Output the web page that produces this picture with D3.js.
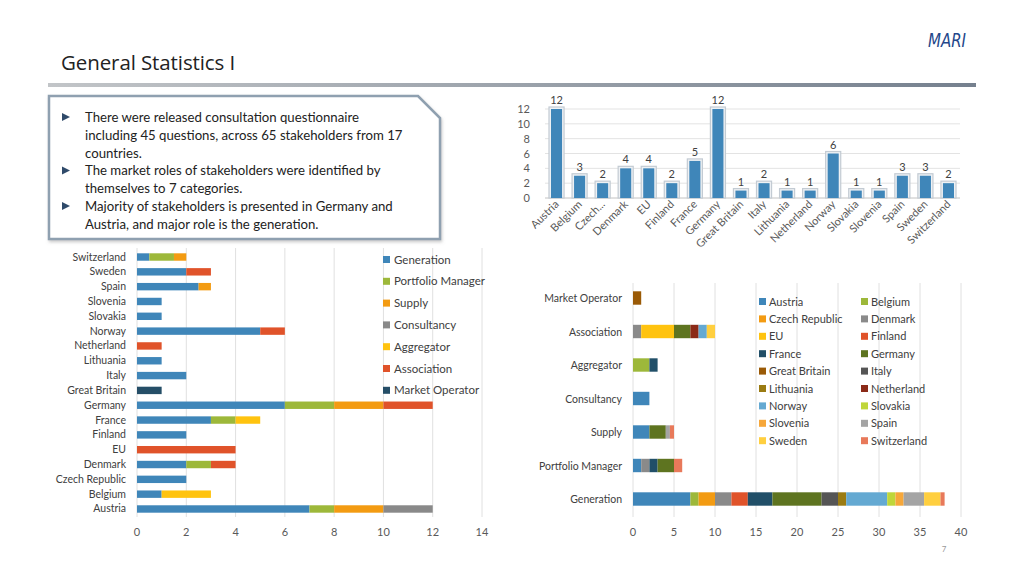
<!DOCTYPE html>
<html><head><meta charset="utf-8">
<script src="https://cdn.jsdelivr.net/npm/d3@7/dist/d3.min.js"></script>
<style>
body{margin:0;background:#fff;}
svg{display:block;font-family:Lato,"Open Sans",sans-serif;}
</style></head>
<body><svg id="c" width="1024" height="576"></svg>
<script>
const countries = ["Austria","Belgium","Czech Republic","Denmark","EU","Finland","France","Germany","Great Britain","Italy","Lithuania","Netherland","Norway","Slovakia","Slovenia","Spain","Sweden","Switzerland"];
const countryTickLabels = ["Austria","Belgium","Czech...","Denmark","EU","Finland","France","Germany","Great Britain","Italy","Lithuania","Netherland","Norway","Slovakia","Slovenia","Spain","Sweden","Switzerland"];
const stakeholders = [12,3,2,4,4,2,5,12,1,2,1,1,6,1,1,3,3,2];
const roles = ["Generation","Portfolio Manager","Supply","Consultancy","Aggregator","Association","Market Operator"];
const generation     = [7,1,2,2,0,2,3,6,0,2,1,0,5,1,1,2.5,2,0.5];
const portfolio      = [1,0,0,1,0,0,1,2,0,0,0,0,0,0,0,0,0,1];
const supply         = [2,0,0,0,0,0,0,2,0,0,0,0,0,0,0,0.5,0,0.5];
const consultancy    = [2,0,0,0,0,0,0,0,0,0,0,0,0,0,0,0,0,0];
const aggregator     = [0,2,0,0,0,0,1,0,0,0,0,0,0,0,0,0,0,0];
const association    = [0,0,0,1,4,0,0,2,0,0,0,1,1,0,0,0,1,0];
const marketOperator = [0,0,0,0,0,0,0,0,1,0,0,0,0,0,0,0,0,0];
const topTicks = [0,2,4,6,8,10,12];
const leftTicks = [0,2,4,6,8,10,12,14];
const rightTicks = [0,5,10,15,20,25,30,35,40];
const bullets = [
  ["There were released consultation questionnaire","including 45 questions, across 65 stakeholders from 17","countries."],
  ["The market roles of stakeholders were identified by","themselves to 7 categories."],
  ["Majority of stakeholders is presented in Germany and","Austria, and major role is the generation."]
];

const roleColors = ["#3F86B9","#9DB83A","#F39B12","#898989","#FFC30F","#E0532A","#254E67"];
const countryColors = ["#3F86B9","#9DB83A","#F39B12","#8A8A8A","#FFC30F","#E0532A","#214F68","#5E7420","#9A5A06","#555555","#9A7B12","#8B2A18","#64A9D2","#BFD63A","#F6A73A","#A4A4A4","#FFCF3F","#E8795A"];

const roleData = [generation,portfolio,supply,consultancy,aggregator,association,marketOperator];
const svg = d3.select("#c");
const txt = "#595959";

// header
svg.append("text").attr("x",61).attr("y",70).attr("font-size",20.5).attr("fill","#222")
  .attr("font-family","'Open Sans',Lato,sans-serif").attr("letter-spacing",-0.1).text("General Statistics I");
svg.append("text").attr("x",928).attr("y",47).attr("font-size",20).attr("textLength",38).attr("lengthAdjust","spacingAndGlyphs")
  .attr("font-style","italic").attr("fill","#24478a").attr("font-family","'Liberation Sans Narrow','DejaVu Sans Condensed',sans-serif")
  .text("MARI");
const defs = svg.append("defs");
const g1 = defs.append("linearGradient").attr("id","hl");
g1.append("stop").attr("offset","0").attr("stop-color","#c2c5c8");
g1.append("stop").attr("offset","1").attr("stop-color","#75808e");
svg.append("rect").attr("x",48).attr("y",83).attr("width",928).attr("height",4).attr("fill","url(#hl)");

// text box
const f = defs.append("filter").attr("id","sh").attr("x","-5%").attr("y","-5%").attr("width","110%").attr("height","115%");
f.append("feDropShadow").attr("dx",1).attr("dy",2).attr("stdDeviation",1.5).attr("flood-color","#999").attr("flood-opacity",0.5);
svg.append("path").attr("d","M49,96 L418,96 L440,118 L440,239 L49,239 Z").attr("fill","#fff")
  .attr("stroke","#8fa0b0").attr("stroke-width",2.5).attr("filter","url(#sh)");
let ly = 122;
bullets.forEach(b=>{
  svg.append("path").attr("d",`M62,${ly-9} L70,${ly-5} L62,${ly-1} Z`).attr("fill","#2f4a6a");
  b.forEach(line=>{
    svg.append("text").attr("x",85).attr("y",ly).attr("font-size",13.2).attr("fill","#222").text(line);
    ly += 17.8;
  });
});

// ===== top chart =====
const tx = d3.scaleBand().domain(countries).range([545,960]).paddingInner(0.52).paddingOuter(0.26);
const ty = d3.scaleLinear().domain([0,12]).range([198,109]);
const gTop = svg.append("g");
gTop.selectAll(".gl").data(topTicks).join("line").attr("x1",545).attr("x2",960)
  .attr("y1",d=>ty(d)).attr("y2",d=>ty(d)).attr("stroke","#e3e3e3");
gTop.append("line").attr("x1",545).attr("x2",960).attr("y1",ty(0)).attr("y2",ty(0)).attr("stroke","#d0d0d0");
gTop.selectAll(".yl").data(topTicks).join("text").attr("x",530).attr("y",d=>ty(d)+4)
  .attr("text-anchor","end").attr("font-size",11).attr("fill",txt).text(d=>d);
countries.forEach((c,i)=>{
  const x = tx(c), w = tx.bandwidth(), v = stakeholders[i];
  gTop.append("rect").attr("x",x-2).attr("y",ty(v)-2).attr("width",w+4).attr("height",ty(0)-ty(v)+2)
    .attr("fill","#eef1f4").attr("stroke","#c3cbd3").attr("stroke-width",1.2);
  gTop.append("rect").attr("x",x).attr("y",ty(v)).attr("width",w).attr("height",ty(0)-ty(v)).attr("fill","#3F86B9");
  gTop.append("text").attr("x",x+w/2).attr("y",ty(v)-5).attr("text-anchor","middle").attr("font-size",11)
    .attr("fill","#404040").text(v);
  gTop.append("text").attr("transform",`translate(${x+w/2+3},${205}) rotate(-45)`).attr("text-anchor","end")
    .attr("font-size",11).attr("fill",txt).text(countryTickLabels[i]);
});

// ===== left chart =====
const lx = d3.scaleLinear().domain([0,14]).range([137,482]);
const lyS = d3.scaleBand().domain(countries.slice().reverse()).range([249.6,516.4]).paddingInner(0.5).paddingOuter(0.25);
const gLeft = svg.append("g");
gLeft.selectAll(".gl").data(leftTicks).join("line").attr("x1",d=>lx(d)).attr("x2",d=>lx(d))
  .attr("y1",248).attr("y2",517).attr("stroke","#e0e0e0");
gLeft.selectAll(".xl").data(leftTicks).join("text").attr("x",d=>lx(d)).attr("y",536)
  .attr("text-anchor","middle").attr("font-size",11).attr("fill",txt).text(d=>d);
const lrows = countries.map((c,i)=>{const o={c}; roles.forEach((r,k)=>o[r]=roleData[k][i]); return o;});
const lstack = d3.stack().keys(roles)(lrows);
lstack.forEach((s,k)=>{
  gLeft.selectAll(null).data(s.filter(d=>d[1]>d[0])).join("rect")
    .attr("x",d=>lx(d[0])).attr("width",d=>lx(d[1])-lx(d[0]))
    .attr("y",d=>lyS(d.data.c)).attr("height",lyS.bandwidth()).attr("fill",roleColors[k]);
});
gLeft.selectAll(".yl").data(countries).join("text").attr("x",126).attr("y",d=>lyS(d)+lyS.bandwidth()/2+3.5)
  .attr("text-anchor","end").attr("font-size",10.5).attr("fill","#404040").text(d=>d);
roles.forEach((r,k)=>{
  const yy = 260 + k*21.8;
  gLeft.append("rect").attr("x",383).attr("y",yy-4).attr("width",7).attr("height",7).attr("fill",roleColors[k]);
  gLeft.append("text").attr("x",394).attr("y",yy+3.5).attr("font-size",11.5).attr("fill","#404040").text(r);
});

// ===== right chart =====
const rx = d3.scaleLinear().domain([0,40]).range([633,961]);
const ry = d3.scaleBand().domain(roles.slice().reverse()).range([281.25,515.75]).paddingInner(0.6).paddingOuter(0.3);
const gRight = svg.append("g");
gRight.selectAll(".gl").data(rightTicks).join("line").attr("x1",d=>rx(d)).attr("x2",d=>rx(d))
  .attr("y1",283).attr("y2",517).attr("stroke","#e0e0e0");
gRight.selectAll(".xl").data(rightTicks).join("text").attr("x",d=>rx(d)).attr("y",536)
  .attr("text-anchor","middle").attr("font-size",11).attr("fill",txt).text(d=>d);
const rrows = roles.map((r,k)=>{const o={r}; countries.forEach((c,i)=>o[c]=roleData[k][i]); return o;});
const rstack = d3.stack().keys(countries)(rrows);
rstack.forEach((s,i)=>{
  gRight.selectAll(null).data(s.filter(d=>d[1]>d[0])).join("rect")
    .attr("x",d=>rx(d[0])).attr("width",d=>rx(d[1])-rx(d[0]))
    .attr("y",d=>ry(d.data.r)).attr("height",ry.bandwidth()).attr("fill",countryColors[i]);
});
gRight.selectAll(".yl").data(roles).join("text").attr("x",622).attr("y",d=>ry(d)+ry.bandwidth()/2+4)
  .attr("text-anchor","end").attr("font-size",10.5).attr("fill","#404040").text(d=>d);
countries.forEach((c,i)=>{
  const col = i%2, row = Math.floor(i/2);
  const xx = col===0 ? 760 : 862, yy = 302 + row*17.4;
  gRight.append("rect").attr("x",xx-1).attr("y",yy-4).attr("width",7).attr("height",7).attr("fill",countryColors[i]);
  gRight.append("text").attr("x",xx+9).attr("y",yy+3.5).attr("font-size",11).attr("fill","#404040").text(c);
});

svg.append("text").attr("x",944).attr("y",552).attr("text-anchor","middle").attr("font-size",8).attr("fill","#999").text("7");
</script></body></html>
